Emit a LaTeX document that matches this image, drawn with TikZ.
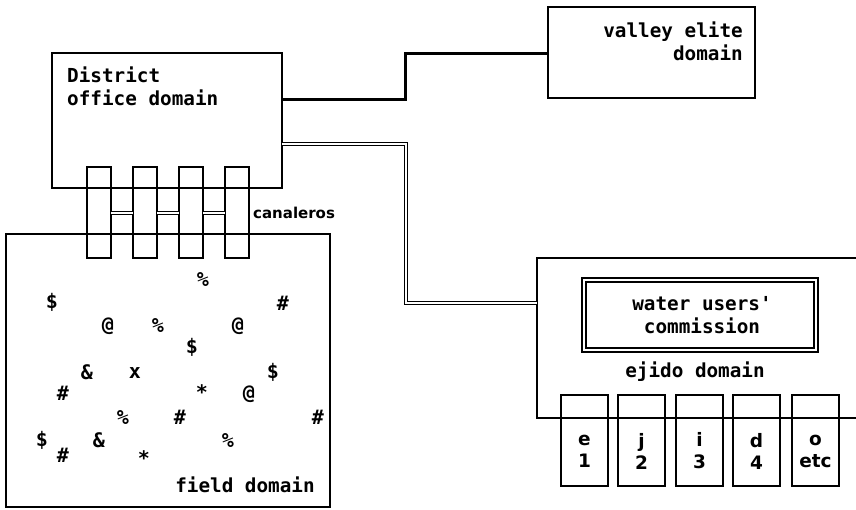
\documentclass[tikz,border=0pt]{standalone}
\usepackage{fontspec}
\newfontfamily\bmono{DejaVu Sans Mono}
\newfontfamily\rsans{DejaVu Sans}
\begin{document}
\begin{tikzpicture}[x=1pt,y=-1pt,
  box/.style={draw,line width=1.7pt,inner sep=0pt},
  conn/.style={line width=3pt},
  dconn/.style={double,double distance=1.3pt,line width=1pt},
  lbl/.style={font=\bmono\bfseries\fontsize{19.3}{23}\selectfont,inner sep=0pt},
  sym/.style={font=\bmono\bfseries\fontsize{20}{22}\selectfont,inner sep=0pt},
  small/.style={font=\rsans\bfseries\fontsize{18.5}{22}\selectfont,inner sep=0pt,align=center},
  canl/.style={font=\rsans\bfseries\fontsize{15}{20}\selectfont,inner sep=0pt}]
\useasboundingbox (0,0) rectangle (856,509);
% field domain
\path[box,fill=white] (6,234) rectangle (330,507);
% district office
\draw[line width=1.7pt] (52,53) rectangle (282,188);
\coordinate (dr1) at (282,99);
\coordinate (dr2) at (282,144);
% valley elite
\draw[line width=1.7pt] (548,7) rectangle (755,98);
\coordinate (vl) at (548,53);
% ejido domain (open on right)
\draw[line width=1.7pt] (856,258) -- (537,258) -- (537,418) -- (856,418);
\coordinate (el) at (537,303);
% connectors
\draw[conn] (dr1) -- (405,99) -- (405,53) -- (vl);
\draw[dconn] (dr2) -- (406,144) -- (406,303) -- (el);
% canaleros boxes
\foreach \x/\n in {87/c1,133/c2,179/c3,225/c4}{
  \draw[line width=1.7pt,fill=white] (\x,167) rectangle ++(24,91);
  \coordinate (\n l) at (\x,213);
  \coordinate (\n r) at ({\x+24},213);
}
% redraw field top line over canaleros boxes
\draw[line width=1.7pt] (6,234) -- (330,234);
% redraw district bottom line
\draw[line width=1.7pt] (52,188) -- (282,188);
\draw[dconn] (c1r) -- (c2l);
\draw[dconn] (c2r) -- (c3l);
\draw[dconn] (c3r) -- (c4l);
\node[canl,anchor=west] (can) at (253,213) {canaleros};
% labels
\node[lbl,anchor=west,align=left] (dist) at (67,86) {District\\office domain};
\node[lbl,anchor=east,align=right] (valley) at (743,41) {valley elite\\domain};
\node[lbl,anchor=center] (field) at (245,485) {field domain};
\node[lbl,anchor=center] (ejido) at (695,372) {ejido domain};
% water users' commission
\draw[line width=1.4pt] (582,278) rectangle (818,352);
\draw[line width=1.4pt] (586,282) rectangle (814,348);
\node[lbl,align=center] (wuc) at (702,315) {water users'\\commission};
% ejido small boxes
\foreach \x/\a/\b in {561/e/1,618/j/2,676/i/3,733/d/4,792/o/etc}{
  \draw[line width=1.7pt] (\x,395) rectangle ++(47,91);
  \node[small] at ({\x+23.5},451) {\a\\\b};
}
% field symbols
\foreach \px/\py/\s in {203/280/\%,52/302/\$,283/303/\#,108/326/@,158/326/\%,238/326/@,192/347/\$,87/372/\&,135/373/x,273/372/\$,63/393/\#,202/392/*,249/394/@,123/417/\%,180/417/\#,318/417/\#,42/440/\$,99/440/\&,228/440/\%,63/455/\#,144/458/*}{
  \node[sym] at (\px,\py) {\s};
}
\end{tikzpicture}
\end{document}
